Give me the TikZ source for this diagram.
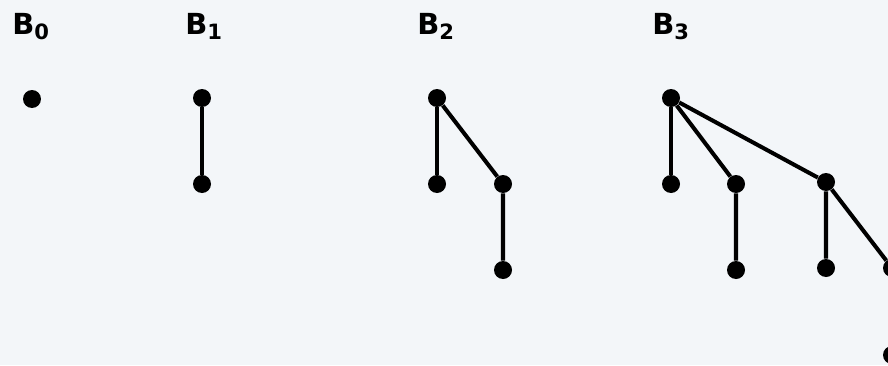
\documentclass[tikz,border=0pt]{standalone}
\usepackage{fontspec}
\setmainfont{DejaVu Sans}
\definecolor{panelbg}{HTML}{F3F6F9}
\usepackage{tikz}
\usetikzlibrary{positioning}

\newcommand{\treesub}[1]{\raisebox{-0.32ex}{\fontsize{12}{14}\selectfont #1}}
\tikzset{
  vertex/.style={circle,fill=black,inner sep=0pt,minimum size=0.36cm},
  treelabel/.style={anchor=base west,inner sep=0pt,font=\fontsize{16.5}{20}\selectfont\bfseries},
  edge/.style={line width=2.3pt}
}

\begin{document}
\begin{tikzpicture}[x=0.02cm,y=-0.02cm]
    \clip (0,0) rectangle (888,365);
    \fill[panelbg] (0,0) rectangle (888,365);
    % labels
    \node[treelabel] (l0) at (12,34) {B\treesub{0}};
    \node[treelabel] (l1) at (185,34) {B\treesub{1}};
    \node[treelabel] (l2) at (417,34) {B\treesub{2}};
    \node[treelabel] (l3) at (652,34) {B\treesub{3}};
    % B0
    \node[vertex] (a0) at (32,99) {};
    % B1
    \node[vertex] (b0) at (202,98) {};
    \node[vertex] (b1) at (202,184) {};
    \draw[edge] (b0) -- (b1);
    % B2
    \node[vertex] (c0) at (437,98) {};
    \node[vertex] (c1) at (437,184) {};
    \node[vertex] (c2) at (503,184) {};
    \node[vertex] (c3) at (503,270) {};
    \draw[edge] (c0) -- (c1);
    \draw[edge] (c0) -- (c2) -- (c3);
    % B3
    \node[vertex] (d0) at (671,98) {};
    \node[vertex] (d1) at (671,184) {};
    \node[vertex] (d2) at (736,184) {};
    \node[vertex] (d3) at (736,270) {};
    \node[vertex] (d4) at (826,182) {};
    \node[vertex] (d5) at (826,268) {};
    \node[vertex] (d6) at (892,268) {};
    \node[vertex] (d7) at (892,355) {};
    \draw[edge] (d0) -- (d1);
    \draw[edge] (d0) -- (d2) -- (d3);
    \draw[edge] (d0) -- (d4) -- (d5);
    \draw[edge] (d4) -- (d6) -- (d7);
\end{tikzpicture}
\end{document}
